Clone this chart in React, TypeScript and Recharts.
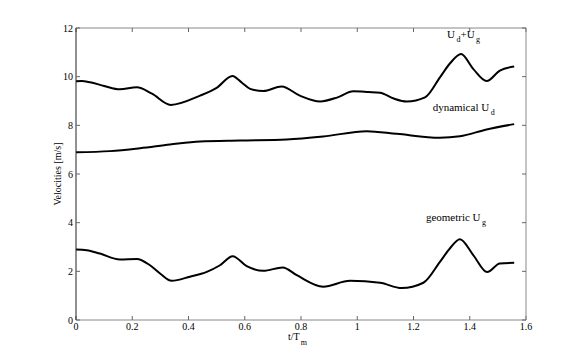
import React from 'react';
import { LineChart, Line, XAxis, YAxis, ReferenceDot } from 'recharts';

const tSum = [0, 0.02, 0.05, 0.1, 0.156, 0.216, 0.27, 0.337, 0.441, 0.5, 0.556, 0.59, 0.619, 0.666, 0.731, 0.796, 0.868, 0.93, 0.986, 1.04, 1.081, 1.13, 1.176, 1.241, 1.294, 1.33, 1.369, 1.413, 1.46, 1.507, 1.558];
const vSum = [9.81, 9.82, 9.77, 9.62, 9.48, 9.56, 9.3, 8.84, 9.22, 9.54, 10.03, 9.75, 9.5, 9.41, 9.6, 9.22, 8.98, 9.15, 9.4, 9.37, 9.34, 9.1, 8.98, 9.15, 9.97, 10.55, 10.93, 10.31, 9.82, 10.25, 10.42];

const tDyn = [0, 0.121, 0.228, 0.334, 0.441, 0.583, 0.749, 0.879, 1.034, 1.14, 1.294, 1.365, 1.46, 1.558];
const vDyn = [6.89, 6.94, 7.06, 7.21, 7.34, 7.38, 7.42, 7.54, 7.76, 7.65, 7.49, 7.55, 7.83, 8.05];

const tGeo = [0, 0.038, 0.085, 0.156, 0.216, 0.263, 0.3, 0.34, 0.405, 0.465, 0.512, 0.557, 0.607, 0.666, 0.735, 0.785, 0.879, 0.974, 1.081, 1.158, 1.235, 1.294, 1.33, 1.365, 1.413, 1.462, 1.507, 1.558];
const vGeo = [2.9, 2.87, 2.73, 2.49, 2.51, 2.25, 1.9, 1.61, 1.78, 1.98, 2.25, 2.62, 2.21, 2.02, 2.16, 1.84, 1.37, 1.61, 1.53, 1.31, 1.53, 2.39, 2.95, 3.32, 2.66, 1.97, 2.32, 2.35];

const xTicks = [0, 0.2, 0.4, 0.6, 0.8, 1, 1.2, 1.4, 1.6];
const yTicks = [0, 2, 4, 6, 8, 10, 12];

const sumData = tSum.map((t, i) => ({ t, v: vSum[i] }));
const dynData = tDyn.map((t, i) => ({ t, v: vDyn[i] }));
const geoData = tGeo.map((t, i) => ({ t, v: vGeo[i] }));

const FONT = '"Liberation Serif", "DejaVu Serif", serif';
const tickStyle = { fontSize: 10, fill: '#000', fontFamily: FONT };

const makeLabel = (parts: { main: string; sub: string }[]) => (props: any) => {
  const { cx, cy } = props;
  const out: any[] = [];
  parts.forEach((p, i) => {
    out.push(<tspan key={'m' + i} dy={i === 0 ? 0 : -4} fontSize={11}>{p.main}</tspan>);
    if (p.sub) out.push(<tspan key={'s' + i} dx={1.5} dy={4} fontSize={8}>{p.sub}</tspan>);
  });
  return (
    <text x={cx} y={cy} fontFamily={FONT} fill="#000">
      {out}
    </text>
  );
};

const XLabel = (props: any) => {
  const { x, y, width } = props.viewBox;
  return (
    <text x={x + width / 2 - 13} y={y + 20} fontFamily={FONT} fill="#000" fontSize={10}>
      <tspan>t/T</tspan>
      <tspan dx={1} dy={5} fontSize={8}>m</tspan>
    </text>
  );
};

const YLabel = (props: any) => {
  const { y, height } = props.viewBox;
  const cx = 57;
  const cy = y + height / 2;
  return (
    <text x={cx} y={cy} transform={`rotate(-90, ${cx}, ${cy})`} textAnchor="middle" dominantBaseline="central" fontFamily={FONT} fill="#000" fontSize={10}>
      Velocities [m/s]
    </text>
  );
};

export default function App() {
  return (
    <div style={{ position: 'absolute', left: 0, top: 0, width: 581, height: 361, background: '#fff' }}>
      <LineChart width={581} height={361} margin={{ top: 27, right: 54, bottom: 11, left: 36 }}>
        <XAxis
          dataKey="t"
          type="number"
          domain={[0, 1.6]}
          ticks={xTicks}
          allowDataOverflow
          height={30}
          tickSize={-4}
          tickMargin={7}
          tick={tickStyle}
          stroke="#888"
          tickLine={{ stroke: '#666' }}
          label={<XLabel />}
        />
        <XAxis
          xAxisId="top"
          orientation="top"
          dataKey="t"
          type="number"
          domain={[0, 1.6]}
          ticks={xTicks}
          allowDataOverflow
          height={1}
          tickSize={-4}
          tickMargin={2}
          tick={{ fontSize: 1, fill: 'none' }}
          tickFormatter={() => ''}
          stroke="#888"
          tickLine={{ stroke: '#666' }}
        />
        <YAxis
          dataKey="v"
          type="number"
          domain={[0, 12]}
          ticks={yTicks}
          allowDataOverflow
          width={40}
          tickSize={-4}
          tickMargin={7}
          tick={tickStyle}
          stroke="#222"
          tickLine={{ stroke: '#666' }}
          label={<YLabel />}
        />
        <YAxis
          yAxisId="right"
          orientation="right"
          dataKey="v"
          type="number"
          domain={[0, 12]}
          ticks={yTicks}
          allowDataOverflow
          width={1}
          tickSize={-4}
          tickMargin={2}
          tick={{ fontSize: 1, fill: 'none' }}
          tickFormatter={() => ''}
          stroke="#888"
          tickLine={{ stroke: '#666' }}
        />
        <Line data={sumData} dataKey="v" type="monotone" stroke="#000" strokeWidth={2} dot={false} isAnimationActive={false} />
        <Line data={dynData} dataKey="v" type="monotone" stroke="#000" strokeWidth={2} dot={false} isAnimationActive={false} />
        <Line data={geoData} dataKey="v" type="monotone" stroke="#000" strokeWidth={2} dot={false} isAnimationActive={false} />
        <Line data={sumData} dataKey="v" xAxisId="top" yAxisId="right" stroke="none" dot={false} activeDot={false} isAnimationActive={false} />
        <ReferenceDot x={1.319} y={11.6} r={0} shape={makeLabel([{ main: 'U', sub: 'd' }, { main: '+U', sub: 'g' }])} />
        <ReferenceDot x={1.268} y={8.57} r={0} shape={makeLabel([{ main: 'dynamical U', sub: 'd' }])} />
        <ReferenceDot x={1.244} y={4.07} r={0} shape={makeLabel([{ main: 'geometric U', sub: 'g' }])} />
      </LineChart>
    </div>
  );
}
